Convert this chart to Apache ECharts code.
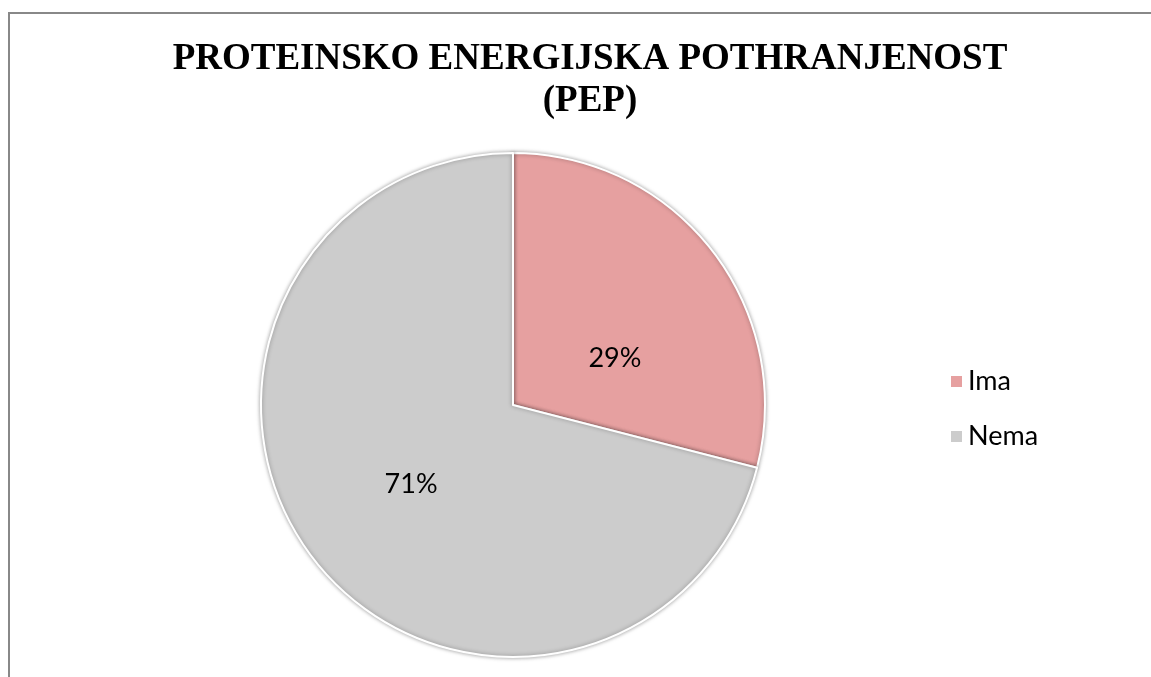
<!DOCTYPE html>
<html>
<head>
<meta charset="utf-8">
<script src="https://cdn.jsdelivr.net/npm/echarts@6/dist/echarts.min.js"></script>
<style>
    html, body {margin: 0; padding: 0; background: #fff;}
    #frame {position: absolute; left: 8px; top: 12px; width: 1143px; height: 665px;
        border-left: 2px solid #888; border-top: 2px solid #888; box-sizing: border-box;}
    #id_pep {position: absolute; left: 0; top: 0; width: 1151px; height: 677px;}
</style>
</head>
<body>
<div id="frame"></div>
<div id="id_pep"></div>
<script>
    var categories = ["Ima", "Nema"];
    var values = [29, 71];
    var colors = ["#E6A0A0", "#CCCCCC"];

    var pepChart = echarts.init(document.getElementById("id_pep"));

    var pieData = [];
    for (var i = 0; i < categories.length; i++) {
        pieData.push({value: values[i], name: categories[i], itemStyle: {color: colors[i]}});
    }
    //Ima label sits a bit lower in the original
    pieData[0].label = {offset: [0, 32]};

    var option = {
        animation: false,
        title: {
            text: "PROTEINSKO ENERGIJSKA POTHRANJENOST\n(PEP)",
            left: 585,
            textAlign: "center",
            top: 33,
            textStyle: {
                fontFamily: "Liberation Serif",
                fontSize: 37,
                fontWeight: "bold",
                color: "#000",
                lineHeight: 42
            }
        },
        legend: {
            orient: "vertical",
            left: 944,
            top: 363,
            itemWidth: 13,
            itemHeight: 13,
            itemGap: 28,
            icon: "rect",
            data: categories,
            textStyle: {fontFamily: "Lato", fontSize: 27, color: "#000"}
        },
        series: [
            {
                name: "PEP",
                type: "pie",
                center: [513, 405],
                radius: 252,
                startAngle: 90,
                clockwise: true,
                itemStyle: {
                    borderColor: "#fff",
                    borderWidth: 2,
                    shadowBlur: 4,
                    shadowColor: "rgba(0,0,0,0.35)"
                },
                label: {
                    show: true,
                    position: "inside",
                    formatter: "{d}%",
                    fontFamily: "Lato",
                    fontSize: 27,
                    color: "#000"
                },
                labelLine: {show: false},
                data: pieData
            }
        ]
    };

    pepChart.setOption(option);
</script>
</body>
</html>
